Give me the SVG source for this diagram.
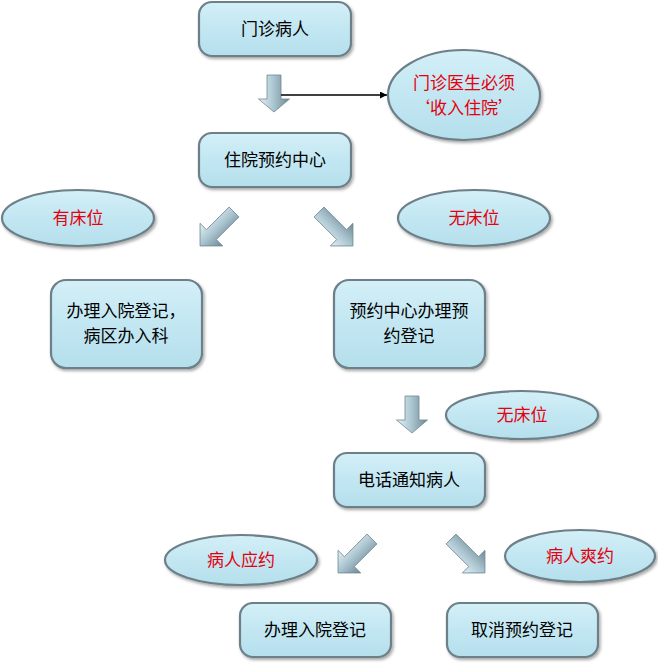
<svg xmlns="http://www.w3.org/2000/svg" width="658" height="663" viewBox="0 0 658 663">
<defs>
<linearGradient id="boxFill" x1="0" y1="0" x2="0" y2="1">
<stop offset="0" stop-color="#d4eff7"/>
<stop offset="0.5" stop-color="#c2e7f2"/>
<stop offset="1" stop-color="#b5dfec"/>
</linearGradient>
<linearGradient id="arrowFill" x1="0" y1="0" x2="1" y2="0">
<stop offset="0" stop-color="#e6f2f6"/>
<stop offset="0.5" stop-color="#a9c4cf"/>
<stop offset="1" stop-color="#6f8893"/>
</linearGradient>
<filter id="shadow" x="-10%" y="-10%" width="125%" height="130%">
<feDropShadow dx="1.5" dy="2" stdDeviation="1.5" flood-color="#000" flood-opacity="0.35"/>
</filter>
<marker id="arrowHead" viewBox="0 0 10 10" refX="10" refY="5" markerWidth="7" markerHeight="7" markerUnits="userSpaceOnUse" orient="auto">
<path d="M0,0 L10,5 L0,10 z" fill="#000"/>
</marker>
<polygon id="downArrow" points="-7,0 7,0 7,24 15.5,24 0,37 -15.5,24 -7,24"/>
<polygon id="diagArrow" points="-7,0 7,0 7,32 16,32 0,48 -16,32 -7,32"/>
</defs>
<style>
.box{fill:url(#boxFill);stroke:#6d7f88;stroke-width:2.2;filter:url(#shadow)}
.ell{fill:url(#boxFill);stroke:#6d7f88;stroke-width:2.2;filter:url(#shadow)}
.t{font-family:"Noto Sans CJK SC","Liberation Sans",sans-serif;font-size:17px;fill:#000;text-anchor:middle}
.r{font-family:"Noto Sans CJK SC","Liberation Sans",sans-serif;font-size:17px;fill:#e3000f;text-anchor:middle}
.ba{fill:url(#arrowFill);stroke:#6f8893;stroke-width:0.8}
</style>
<rect width="658" height="663" fill="#fff"/>

<g id="connectors">
<use href="#downArrow" class="ba" transform="translate(274,75)"/>
<line x1="281" y1="95" x2="387" y2="95" stroke="#000" stroke-width="1.6" marker-end="url(#arrowHead)"/>
<use href="#diagArrow" class="ba" transform="translate(234,212) rotate(45)"/>
<use href="#diagArrow" class="ba" transform="translate(319,212) rotate(-45)"/>
<use href="#downArrow" class="ba" transform="translate(412,396)"/>
<use href="#diagArrow" class="ba" transform="translate(372,539) rotate(45)"/>
<use href="#diagArrow" class="ba" transform="translate(451,539) rotate(-45)"/>
</g>

<g id="n1"><rect class="box" x="199" y="2" width="152" height="54" rx="13"/><text class="t" x="275" y="35">门诊病人</text></g>
<g id="e1"><ellipse class="ell" cx="464" cy="95" rx="76" ry="45"/><text class="r" x="464" y="89">门诊医生必须</text><text class="r" x="464" y="114">‘收入住院’</text></g>
<g id="n2"><rect class="box" x="199" y="133" width="152" height="54" rx="13"/><text class="t" x="275" y="166">住院预约中心</text></g>
<g id="e2"><ellipse class="ell" cx="78" cy="218" rx="76" ry="28"/><text class="r" x="78" y="224">有床位</text></g>
<g id="e3"><ellipse class="ell" cx="474" cy="218" rx="76" ry="28"/><text class="r" x="474" y="224">无床位</text></g>
<g id="n3"><rect class="box" x="51" y="280" width="151" height="88" rx="15"/><text class="t" x="126" y="317">办理入院登记，</text><text class="t" x="126" y="342">病区办入科</text></g>
<g id="n4"><rect class="box" x="334" y="280" width="151" height="88" rx="15"/><text class="t" x="409" y="317">预约中心办理预</text><text class="t" x="409" y="342">约登记</text></g>
<g id="e4"><ellipse class="ell" cx="522" cy="415" rx="76" ry="24"/><text class="r" x="522" y="421">无床位</text></g>
<g id="n5"><rect class="box" x="334" y="453" width="151" height="54" rx="13"/><text class="t" x="409" y="486">电话通知病人</text></g>
<g id="e5"><ellipse class="ell" cx="241" cy="560" rx="76" ry="25"/><text class="r" x="241" y="566">病人应约</text></g>
<g id="e6"><ellipse class="ell" cx="580" cy="556" rx="75" ry="26"/><text class="r" x="580" y="562">病人爽约</text></g>
<g id="n6"><rect class="box" x="240" y="603" width="151" height="54" rx="13"/><text class="t" x="315" y="636">办理入院登记</text></g>
<g id="n7"><rect class="box" x="447" y="603" width="151" height="54" rx="13"/><text class="t" x="522" y="636">取消预约登记</text></g>
</svg>
